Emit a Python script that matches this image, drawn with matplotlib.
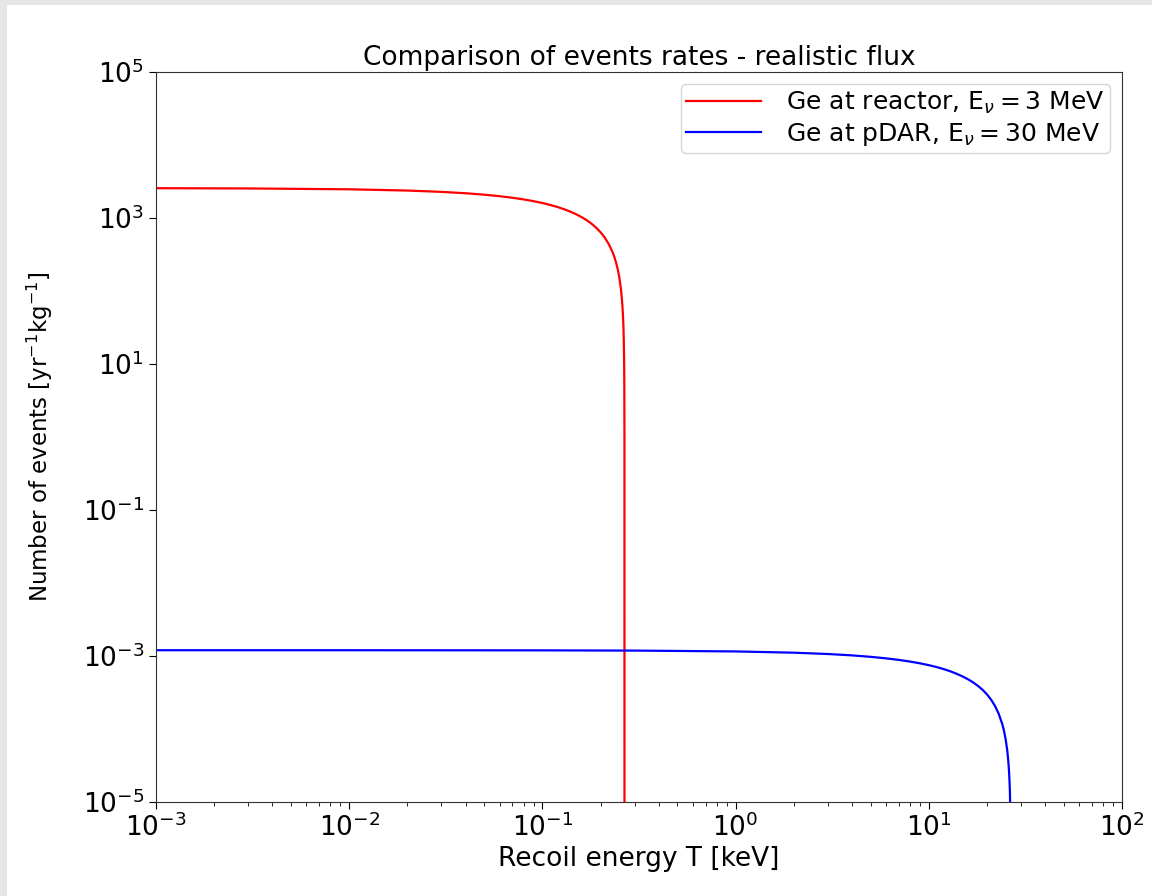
import matplotlib
matplotlib.use("Agg")
import matplotlib.pyplot as plt
from matplotlib.patches import Rectangle

# recoil energy T [keV] and events [1/(yr kg)]
T_reactor = [1e-3, 3e-3, 1e-2, 2e-2, 3e-2, 4e-2, 5e-2, 6e-2, 7e-2, 0.08,
             0.09, 0.1, 0.11, 0.12, 0.13, 0.14, 0.15, 0.16, 0.17, 0.18,
             0.19, 0.2, 0.21, 0.22, 0.23, 0.235, 0.24, 0.245, 0.25, 0.255,
             0.258, 0.26, 0.262, 0.263, 0.264, 0.265, 0.2655, 0.2659, 0.26599]
N_reactor = [2560, 2540, 2473, 2377, 2280, 2184, 2087, 1990, 1893, 1797,
             1700, 1604, 1507, 1411, 1314, 1217, 1121, 1024, 928, 831,
             734, 638, 541, 445, 348, 300, 251, 203, 155, 106,
             77, 58, 39, 29, 19, 9.7, 4.8, 0.97, 1e-6]

T_pdar = [1e-3, 0.01, 0.1, 0.3, 1, 2, 3, 4, 5, 6, 7, 8, 9, 10, 11, 12,
          13, 14, 15, 16, 17, 18, 19, 20, 21, 22, 23, 24, 24.5, 25,
          25.5, 25.8, 26, 26.2, 26.3, 26.5, 26.59]
N_pdar = [1.2e-3, 1.2e-3, 1.195e-3, 1.186e-3, 1.155e-3, 1.11e-3, 1.065e-3,
          1.02e-3, 0.974e-3, 0.929e-3, 0.884e-3, 0.839e-3, 0.794e-3,
          0.749e-3, 0.704e-3, 0.659e-3, 0.614e-3, 0.568e-3, 0.523e-3,
          0.478e-3, 0.433e-3, 0.388e-3, 0.343e-3, 0.298e-3, 0.253e-3,
          0.207e-3, 0.162e-3, 0.117e-3, 0.0947e-3, 0.072e-3, 0.0496e-3,
          0.0361e-3, 0.027e-3, 0.018e-3, 0.0135e-3, 4.5e-6, 1e-9]

labels = [r'Ge at reactor, E$_\nu = 3$ MeV', r'Ge at pDAR, E$_\nu = 30$ MeV']

fig = plt.figure(figsize=(11.52, 8.96), dpi=100, facecolor='#e6e6e6')
fig.patches.append(Rectangle((7 / 1152, 0), 1, 1 - 5 / 896, transform=fig.transFigure,
                             facecolor='white', edgecolor='none', zorder=-10))
ax = fig.add_axes([156 / 1152, 94 / 896, 966 / 1152, 730 / 896])

ax.plot(T_reactor, N_reactor, color='red', lw=1.6, label=labels[0])
ax.plot(T_pdar, N_pdar, color='blue', lw=1.6, label=labels[1])
ax.set_xscale('log')
ax.set_yscale('log')
ax.set_xlim(1e-3, 1e2)
ax.set_ylim(1e-5, 1e5)
ax.set_yticks([1e-5, 1e-3, 1e-1, 1e1, 1e3, 1e5])

ax.tick_params(labelsize=19, length=5)
ax.tick_params(which='minor', length=3)
for s in ax.spines.values():
    s.set_color('#333333')
ax.set_title('Comparison of events rates - realistic flux', fontsize=19, pad=5)
ax.set_xlabel('Recoil energy T [keV]', fontsize=19, labelpad=3)
ax.set_ylabel(r'Number of events [yr$^{-1}$kg$^{-1}$]', fontsize=16.5, labelpad=20)
ax.legend(loc='upper right', fontsize=18, handlelength=3.0, handletextpad=1.0,
          labelspacing=0.2, borderpad=0.2, borderaxespad=0.5)

fig.savefig('out.png', dpi=100, facecolor=fig.get_facecolor())
